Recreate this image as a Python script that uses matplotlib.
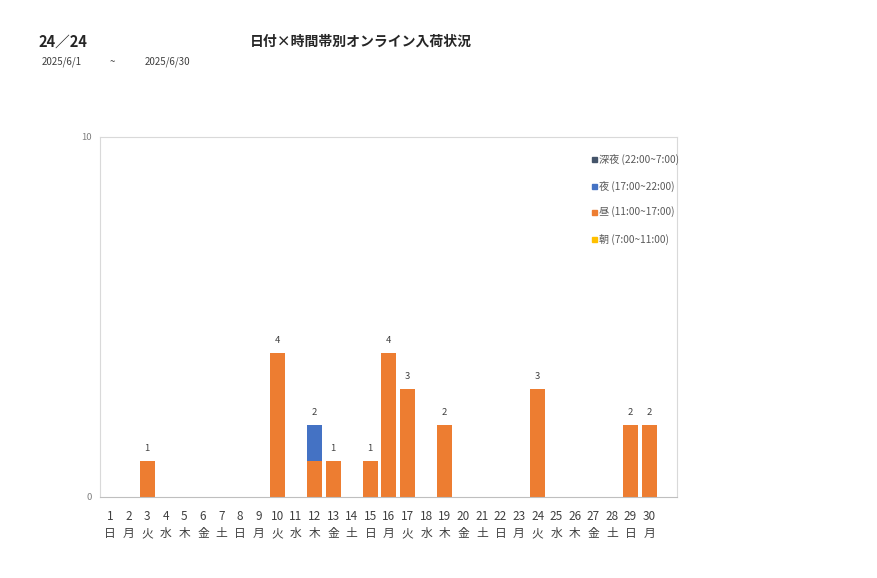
import numpy as np
import matplotlib
matplotlib.use('Agg')
import matplotlib.pyplot as plt
from matplotlib.patches import Rectangle

plt.rcParams['font.family'] = ['Noto Sans CJK JP', 'DejaVu Sans']

days = list(range(1, 31))
weekdays = ['日', '月', '火', '水', '木', '金', '土'] * 5
weekdays = weekdays[:30]

# 時間帯別の入荷件数
asa = [0] * 30          # 朝 (7:00~11:00)
hiru = [0, 0, 1, 0, 0, 0, 0, 0, 0, 4, 0, 1, 1, 0, 1, 4, 3, 0, 2, 0,
        0, 0, 0, 3, 0, 0, 0, 0, 2, 2]   # 昼 (11:00~17:00)
yoru = [0] * 30         # 夜 (17:00~22:00)
yoru[11] = 1
shinya = [0] * 30       # 深夜 (22:00~7:00)

series = [
    ('朝 (7:00~11:00)', asa, '#FFC000'),
    ('昼 (11:00~17:00)', hiru, '#ED7D31'),
    ('夜 (17:00~22:00)', yoru, '#4472C4'),
    ('深夜 (22:00~7:00)', shinya, '#44546A'),
]

fig = plt.figure(figsize=(8.77, 5.78), dpi=100)
W, H = 877, 578
ax = fig.add_axes([100 / W, 1 - 497 / H, 577 / W, 360 / H])

x = np.array(days)
bottom = np.zeros(30)
for name, vals, col in series:
    v = np.array(vals, dtype=float)
    ax.bar(x, v, 0.8, bottom=bottom, color=col, label=name, zorder=2)
    bottom += v

for xi, tot in zip(x, bottom):
    if tot > 0:
        ax.text(xi, tot + 0.22, '%d' % tot, ha='center', va='bottom',
                fontsize=6.8, color='#404040')

ax.set_xlim(0.46, 31.5)
ax.set_ylim(0, 10)
ax.set_yticks([0, 10])
ax.set_yticklabels(['0', '10'], fontsize=6.8, color='#808080')
ax.set_xticks(x)
ax.set_xticklabels(['%d\n%s' % (d, w) for d, w in zip(days, weekdays)],
                   fontsize=8.5, color='#404040', linespacing=1.45)
ax.tick_params(axis='both', length=0)
ax.tick_params(axis='y', pad=6)
ax.tick_params(axis='x', pad=9)
for s in ['left', 'top', 'right']:
    ax.spines[s].set_color('#D9D9D9')
ax.spines['bottom'].set_color('#BFBFBF')

# 凡例 (上から 深夜, 夜, 昼, 朝)
leg_y = [159, 186, 212, 239]
for (name, vals, col), yy in zip(series[::-1], leg_y):
    fig.patches.append(Rectangle((592 / W, 1 - (yy + 2.5) / H), 5 / W, 5 / H,
                                 transform=fig.transFigure, color=col))
    fig.text(599 / W, 1 - yy / H, name, fontsize=7.3, va='center', ha='left',
             color='#595959')

fig.text(38 / W, 1 - 42 / H, '24／24', fontsize=10.5, fontweight='bold',
         va='center', ha='left', color='#262626')
fig.text(250 / W, 1 - 42 / H, '日付×時間帯別オンライン入荷状況', fontsize=10,
         fontweight='bold', va='center', ha='left', color='#262626')
fig.text(42 / W, 1 - 62 / H, '2025/6/1', fontsize=7, va='center', ha='left', color='#404040')
fig.text(110 / W, 1 - 62 / H, '~', fontsize=7, va='center', ha='left', color='#404040')
fig.text(145 / W, 1 - 62 / H, '2025/6/30', fontsize=7, va='center', ha='left', color='#404040')

fig.savefig('out.png', dpi=100)
